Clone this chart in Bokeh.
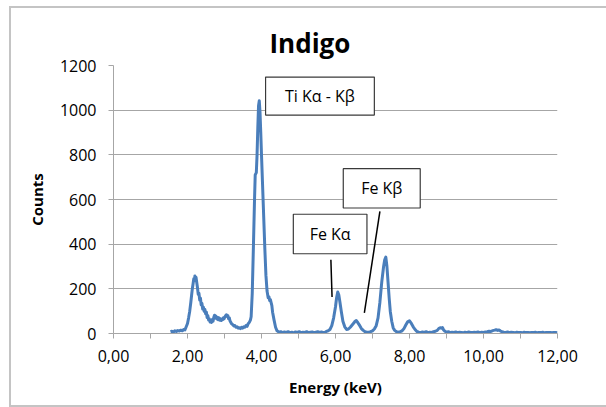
from bokeh.plotting import figure
from bokeh.models import Range1d, FixedTicker, BoxAnnotation, Label
from bokeh.embed import file_html
from bokeh.resources import INLINE

# ---------------- data ----------------
energy_kev = [
    1.54, 1.58, 1.62, 1.66, 1.70, 1.74, 1.78, 1.82, 1.86, 1.90, 1.93, 1.96, 2.00, 2.03, 2.06,
    2.09, 2.11, 2.13, 2.15, 2.17, 2.19, 2.20, 2.21, 2.23, 2.25, 2.27, 2.29, 2.31, 2.33, 2.35,
    2.37, 2.39, 2.41, 2.43, 2.45, 2.47, 2.49, 2.51, 2.53, 2.55, 2.57, 2.59, 2.61, 2.63, 2.65,
    2.67, 2.69, 2.71, 2.73, 2.75, 2.77, 2.79, 2.81, 2.83, 2.85, 2.87, 2.89, 2.91, 2.93, 2.95,
    2.97, 2.99, 3.01, 3.03, 3.05, 3.07, 3.09, 3.11, 3.13, 3.15, 3.17, 3.19, 3.22, 3.25, 3.28,
    3.31, 3.34, 3.37, 3.40, 3.43, 3.46, 3.49, 3.52, 3.55, 3.58, 3.61, 3.64, 3.67, 3.70, 3.72,
    3.75, 3.78, 3.81, 3.83, 3.86, 3.88, 3.90, 3.92, 3.94, 3.96, 3.98, 4.00, 4.03, 4.06, 4.09,
    4.12, 4.15, 4.18, 4.20, 4.22, 4.24, 4.26, 4.28, 4.30, 4.34, 4.38, 4.42, 4.47, 4.52, 4.57,
    4.62, 4.67, 4.72, 4.77, 4.82, 4.87, 4.92, 4.97, 5.02, 5.07, 5.12, 5.17, 5.22, 5.27, 5.32,
    5.37, 5.42, 5.47, 5.52, 5.57, 5.62, 5.67, 5.72, 5.76, 5.80, 5.85, 5.90, 5.95, 6.00, 6.03,
    6.06, 6.09, 6.12, 6.16, 6.20, 6.25, 6.30, 6.35, 6.40, 6.45, 6.50, 6.53, 6.56, 6.59, 6.62,
    6.66, 6.70, 6.75, 6.80, 6.85, 6.90, 6.95, 7.00, 7.05, 7.10, 7.15, 7.20, 7.25, 7.30, 7.33,
    7.36, 7.39, 7.42, 7.45, 7.48, 7.52, 7.56, 7.60, 7.65, 7.70, 7.75, 7.80, 7.85, 7.90, 7.95,
    8.00, 8.05, 8.10, 8.15, 8.20, 8.25, 8.30, 8.35, 8.40, 8.45, 8.50, 8.55, 8.60, 8.65, 8.70,
    8.75, 8.79, 8.83, 8.86, 8.89, 8.92, 8.96, 9.00, 9.05, 9.10, 9.15, 9.20, 9.25, 9.30, 9.35,
    9.40, 9.45, 9.50, 9.55, 9.60, 9.65, 9.70, 9.75, 9.80, 9.85, 9.90, 9.95, 10.00, 10.05, 10.10,
    10.15, 10.20, 10.25, 10.30, 10.34, 10.38, 10.42, 10.46, 10.50, 10.55, 10.60, 10.65, 10.70,
    10.75, 10.80, 10.85, 10.90, 10.95, 11.00, 11.05, 11.10, 11.15, 11.20, 11.25, 11.30, 11.35,
    11.40, 11.45, 11.50, 11.55, 11.60, 11.65, 11.70, 11.75, 11.80, 11.85, 11.90, 11.95, 12.00,
]
counts = [
    8, 10, 7, 12, 9, 13, 11, 15, 12, 18, 16, 28, 45, 70, 100,
    140, 170, 200, 222, 245, 238, 258, 246, 252, 228, 205, 175, 180, 150, 158,
    128, 135, 110, 118, 100, 108, 88, 96, 72, 80, 60, 66, 52, 58, 50,
    62, 55, 72, 82, 70, 78, 65, 72, 62, 70, 60, 66, 58, 64, 62,
    70, 66, 74, 80, 84, 76, 80, 66, 70, 56, 50, 44, 40, 34, 36,
    28, 30, 24, 26, 22, 28, 24, 30, 28, 36, 32, 44, 50, 60, 75,
    180, 380, 590, 710, 720, 800, 920, 1020, 1042, 990, 900, 800, 660, 520, 380,
    260, 190, 160, 165, 148, 152, 138, 125, 95, 60, 28, 12, 6, 8, 4,
    7, 5, 8, 4, 6, 3, 7, 5, 8, 4, 6, 5, 8, 4, 6,
    7, 4, 6, 8, 5, 7, 4, 6, 10, 12, 18, 35, 70, 120, 160,
    186, 172, 140, 95, 55, 30, 18, 20, 28, 38, 48, 55, 58, 52, 44,
    34, 22, 14, 8, 6, 6, 8, 12, 20, 35, 70, 140, 230, 300, 330,
    342, 300, 230, 160, 100, 55, 25, 14, 8, 6, 8, 12, 22, 38, 52,
    57, 45, 30, 18, 9, 6, 4, 7, 5, 8, 4, 6, 5, 8, 10,
    14, 22, 26, 24, 27, 16, 10, 6, 8, 4, 6, 5, 7, 4, 6,
    5, 3, 6, 4, 7, 5, 4, 6, 5, 7, 4, 6, 5, 7, 8,
    10, 9, 13, 15, 17, 14, 16, 11, 8, 6, 5, 7, 4,
    6, 5, 3, 6, 4, 5, 3, 6, 4, 5, 3, 5, 4,
    6, 3, 5, 4, 6, 3, 5, 4, 5, 3, 5, 4, 3,
]

x_ticks = [0, 2, 4, 6, 8, 10, 12]
x_tick_labels = ["0,00", "2,00", "4,00", "6,00", "8,00", "10,00", "12,00"]
x_minor_ticks = [1, 3, 5, 7, 9, 11]
y_ticks = [0, 200, 400, 600, 800, 1000, 1200]

title_text = "Indigo"
x_label = "Energy (keV)"
y_label = "Counts"
peak_labels = ["Ti K\u03b1 - K\u03b2", "Fe K\u03b1", "Fe K\u03b2"]

FONT = "Open Sans"
LINE_BLUE = "#4A7EBB"
GRID = "#a6a6a6"

# ---------------- figure ----------------
p = figure(
    frame_width=444, frame_height=268,
    min_border_left=102, min_border_right=49,
    min_border_top=57, min_border_bottom=72,
    x_range=Range1d(0, 12), y_range=Range1d(0, 1200),
    output_backend="svg", toolbar_location=None,
)
p.styles = {
    "margin-left": "9px", "margin-top": "6px",
    "border-left": "2px solid #c4c4c4",
    "border-top": "2px solid #c4c4c4",
    "border-bottom": "2px solid #c4c4c4",
}
p.outline_line_color = None
p.background_fill_color = "white"
p.border_fill_color = "white"

p.title.text = title_text
p.title.text_font = FONT
p.title.text_font_size = "26px"
p.title.text_font_style = "bold"
p.title.align = "left"
p.title.offset = 156
p.title.text_color = "black"

# x axis
xa = p.xaxis[0]
xa.ticker = FixedTicker(ticks=x_ticks, minor_ticks=x_minor_ticks)
xa.major_label_overrides = dict(zip(x_ticks, x_tick_labels))
xa.axis_label = x_label
xa.axis_label_text_font = FONT
xa.axis_label_text_font_size = "15px"
xa.axis_label_text_font_style = "bold"
xa.axis_label_text_color = "black"
xa.axis_label_standoff = 12
xa.major_label_text_font = FONT
xa.major_label_text_font_size = "16px"
xa.major_label_text_color = "black"
xa.major_label_standoff = 11
xa.axis_line_color = GRID
xa.major_tick_line_color = GRID
xa.minor_tick_line_color = GRID
xa.major_tick_in = 0
xa.major_tick_out = 5
xa.minor_tick_in = 0
xa.minor_tick_out = 5

# y axis
ya = p.yaxis[0]
ya.ticker = FixedTicker(ticks=y_ticks)
ya.axis_label = y_label
ya.axis_label_text_font = FONT
ya.axis_label_text_font_size = "15px"
ya.axis_label_text_font_style = "bold"
ya.axis_label_text_color = "black"
ya.axis_label_standoff = 10
ya.major_label_text_font = FONT
ya.major_label_text_font_size = "16px"
ya.major_label_text_color = "black"
ya.major_label_standoff = 12
ya.axis_line_color = GRID
ya.major_tick_line_color = GRID
ya.major_tick_in = 0
ya.major_tick_out = 5
ya.minor_tick_line_color = None

p.xgrid.visible = False
p.ygrid.ticker = FixedTicker(ticks=y_ticks)
p.ygrid.grid_line_color = GRID
p.ygrid.grid_line_width = 1

# spectrum
p.line(energy_kev, counts, line_color=LINE_BLUE, line_width=3, line_join="round")

# annotation boxes (data coords): left, right, bottom, top
boxes = [
    (4.11, 7.05, 978, 1148),
    (4.86, 6.85, 357, 534),
    (6.21, 8.29, 562, 738),
]
for (l, r, b, t), txt in zip(boxes, peak_labels):
    p.add_layout(BoxAnnotation(left=l, right=r, bottom=b, top=t,
                               fill_color="white", fill_alpha=1.0,
                               line_color="#3a3a3a", line_width=1.2, line_alpha=1.0))
    p.add_layout(Label(x=(l + r) / 2, y=(b + t) / 2, text=txt,
                       text_align="center", text_baseline="middle",
                       text_font=FONT, text_font_size="16px", text_color="black"))

# leader lines
p.segment(x0=[5.875, 7.20], y0=[330, 547], x1=[5.907, 6.78], y1=[163, 92],
          line_color="black", line_width=1.5)

open("out.html", "w").write(file_html(p, INLINE))
